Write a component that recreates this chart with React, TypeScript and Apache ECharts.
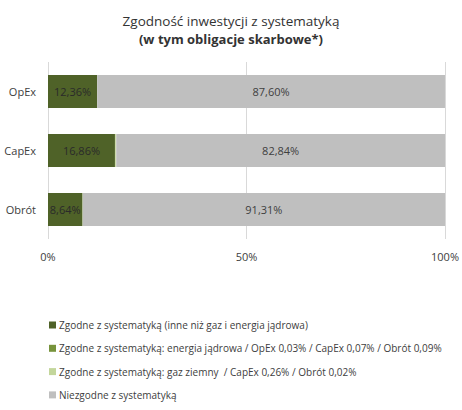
import React, { useEffect, useRef } from "react";
import * as echarts from "echarts";

const categories = ["OpEx", "CapEx", "Obrót"];
const alignedOther = [12.36, 16.86, 8.64];
const alignedNuclear = [0.03, 0.07, 0.09];
const alignedGas = [0, 0.26, 0.02];
const notAligned = [87.6, 82.84, 91.31];
const xTicks = [0, 50, 100];

const seriesNames = [
  "Zgodne z systematyką (inne niż gaz i energia jądrowa)",
  "Zgodne z systematyką: energia jądrowa / OpEx 0,03% / CapEx 0,07% / Obrót 0,09%",
  "Zgodne z systematyką: gaz ziemny  / CapEx 0,26% / Obrót 0,02%",
  "Niezgodne z systematyką",
];

const FONT = "'Open Sans', 'Liberation Sans', sans-serif";
const fmt = (v: number) => v.toFixed(2).replace(".", ",") + "%";

export default function App() {
  const ref = useRef<HTMLDivElement>(null);
  useEffect(() => {
    if (!ref.current) return;
    const chart = echarts.init(ref.current, undefined, { renderer: "svg" });
    const label = (show: boolean, color: string) => ({
      show,
      position: "inside" as const,
      color,
      fontSize: 11,
      fontFamily: FONT,
      formatter: (p: any) => fmt(p.value),
    });
    chart.setOption({
      animation: false,
      textStyle: { fontFamily: FONT },
      title: {
        text: "Zgodność inwestycji z systematyką",
        subtext: "(w tym obligacje skarbowe*)",
        left: "center",
        top: 9,
        itemGap: 4,
        textStyle: { fontSize: 13.5, fontWeight: "normal", color: "#333333", fontFamily: FONT },
        subtextStyle: { fontSize: 13, fontWeight: "bold", color: "#333333", fontFamily: FONT },
      },
      grid: { left: 48, right: 16, top: 62, bottom: 171, containLabel: false },
      xAxis: {
        type: "value",
        min: xTicks[0],
        max: xTicks[xTicks.length - 1],
        interval: 50,
        axisLine: { show: false },
        axisTick: { show: false },
        axisLabel: { formatter: "{value}%", color: "#404040", fontSize: 11, margin: 12 },
        splitLine: { lineStyle: { color: "#d9d9d9", width: 1 } },
      },
      yAxis: {
        type: "category",
        data: categories,
        inverse: true,
        axisLine: { show: false },
        axisTick: { show: false },
        axisLabel: { color: "#404040", fontSize: 11, margin: 12 },
      },
      legend: {
        orient: "vertical",
        left: 44,
        top: 314,
        itemWidth: 7,
        itemHeight: 7,
        itemGap: 11.3,
        icon: "rect",
        textStyle: { color: "#404040", fontSize: 10, fontFamily: FONT, lineHeight: 12, padding: [0, 0, 0, -2] },
        data: seriesNames,
      },
      series: [
        { name: seriesNames[0], type: "bar", stack: "a", data: alignedOther, barWidth: 33, itemStyle: { color: "#4f6228" }, label: label(true, "#2a2a2a") },
        { name: seriesNames[1], type: "bar", stack: "a", data: alignedNuclear, itemStyle: { color: "#77933c" }, label: label(false, "#404040") },
        { name: seriesNames[2], type: "bar", stack: "a", data: alignedGas, itemStyle: { color: "#c3d69b" }, label: label(false, "#404040") },
        { name: seriesNames[3], type: "bar", stack: "a", data: notAligned, itemStyle: { color: "#bfbfbf" }, label: label(true, "#404040") },
      ],
    });
    return () => chart.dispose();
  }, []);
  return <div ref={ref} style={{ width: 462, height: 410, position: "absolute", left: 0, top: 0, background: "#fff" }} />;
}
